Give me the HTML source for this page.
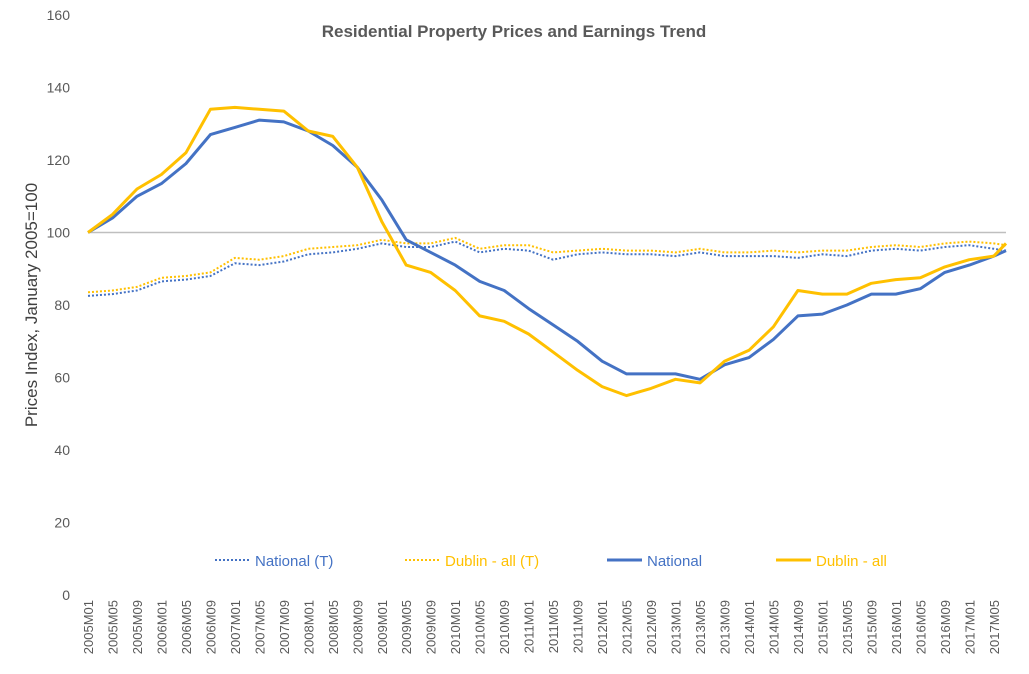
<!DOCTYPE html>
<html><head><meta charset="utf-8"><style>
html,body{margin:0;padding:0;background:#fff}
svg{display:block;font-family:"Liberation Sans",sans-serif}
</style></head><body>
<svg id="chart" width="1029" height="674">
<text x="514" y="37" text-anchor="middle" font-size="17" font-weight="bold" fill="#595959">Residential Property Prices and Earnings Trend</text>
<text transform="translate(37,305) rotate(-90)" text-anchor="middle" font-size="17" fill="#404040">Prices Index, January 2005=100</text>
<g id="yticks"></g><g id="xticks"></g><g id="series"></g>
<g>
<line x1="215" y1="560" x2="250" y2="560" stroke="#4472c4" stroke-width="2" stroke-dasharray="2,2"/>
<text x="255" y="566" font-size="15" fill="#4472c4">National  (T)</text>
<line x1="405" y1="560" x2="440" y2="560" stroke="#ffc000" stroke-width="2" stroke-dasharray="2,2"/>
<text x="445" y="566" font-size="15" fill="#ffc000">Dublin - all (T)</text>
<line x1="607" y1="560" x2="642" y2="560" stroke="#4472c4" stroke-width="3"/>
<text x="647" y="566" font-size="15" fill="#4472c4">National</text>
<line x1="776" y1="560" x2="811" y2="560" stroke="#ffc000" stroke-width="3"/>
<text x="816" y="566" font-size="15" fill="#ffc000">Dublin - all</text>
</g>
</svg>
<script>
const months=[0,4,8,12,16,20,24,28,32,36,40,44,48,52,56,60,64,68,72,76,80,84,88,92,96,100,104,108,112,116,120,124,128,132,136,140,144,148,150];
const national=[100,104,110,113.5,119,127,129,131,130.5,128,124,118,109,98,94.5,91,86.5,84,79,74.5,70,64.5,61,61,61,59.5,63.5,65.5,70.5,77,77.5,80,83,83,84.5,89,91,93.5,95];
const dublin=[100,105,112,116,122,134,134.5,134,133.5,128,126.5,118,103,91,89,84,77,75.5,72,67,62,57.5,55,57,59.5,58.5,64.5,67.5,74,84,83,83,86,87,87.5,90.5,92.5,93.5,97];
const nationalT=[82.5,83,84,86.5,87,88,91.5,91,92,94,94.5,95.5,97,96,96,97.5,94.5,95.5,95,92.5,94,94.5,94,94,93.5,94.5,93.5,93.5,93.5,93,94,93.5,95,95.5,95,96,96.5,95.5,95];
const dublinT=[83.5,84,85,87.5,88,89,93,92.5,93.5,95.5,96,96.5,98,97,97,98.5,95.5,96.5,96.5,94.5,95,95.5,95,95,94.5,95.5,94.5,94.5,95,94.5,95,95,96,96.5,96,97,97.5,97,96.5];
const yTicks=[0,20,40,60,80,100,120,140,160];
const xLabelMonths=[];for(let m=0;m<=148;m+=4)xLabelMonths.push(m);
const NS="http://www.w3.org/2000/svg";
const y=v=>595-v*3.625, x=m=>88+m*6.12;
function mk(t,a,p){const e=document.createElementNS(NS,t);for(const k in a)e.setAttribute(k,a[k]);p.appendChild(e);return e;}
const yt=document.getElementById('yticks');
yTicks.forEach(v=>{const t=mk('text',{x:70,y:y(v)+5,'text-anchor':'end','font-size':14,fill:'#595959'},yt);t.textContent=v;

});
const ref=mk('line',{x1:88,x2:1006,y1:y(100),y2:y(100),stroke:'#bfbfbf','stroke-width':1.5},yt);


const xt=document.getElementById('xticks');
xLabelMonths.forEach(m=>{const yr=2005+Math.floor(m/12),mo=m%12+1;const t=mk('text',{transform:`translate(${x(m)+5},600) rotate(-90)`,'text-anchor':'end','font-size':13,fill:'#595959'},xt);t.textContent=yr+'M'+String(mo).padStart(2,'0');

});
const sg=document.getElementById('series');
function line(vals,col,w,dash,name){const d=vals.map((v,i)=>(i?'L':'M')+x(months[i]).toFixed(1)+','+y(v).toFixed(1)).join('');
const p=mk('path',{d:d,fill:'none',stroke:col,'stroke-width':w,'stroke-linejoin':'round'},sg);if(dash)p.setAttribute('stroke-dasharray',dash);

}
line(dublinT,'#ffc000',2,'2,2','dublin-t-line');
line(nationalT,'#4472c4',2,'2,2','national-t-line');
line(national,'#4472c4',3,null,'national-line');
line(dublin,'#ffc000',3,null,'dublin-line');
</script>
</body></html>
